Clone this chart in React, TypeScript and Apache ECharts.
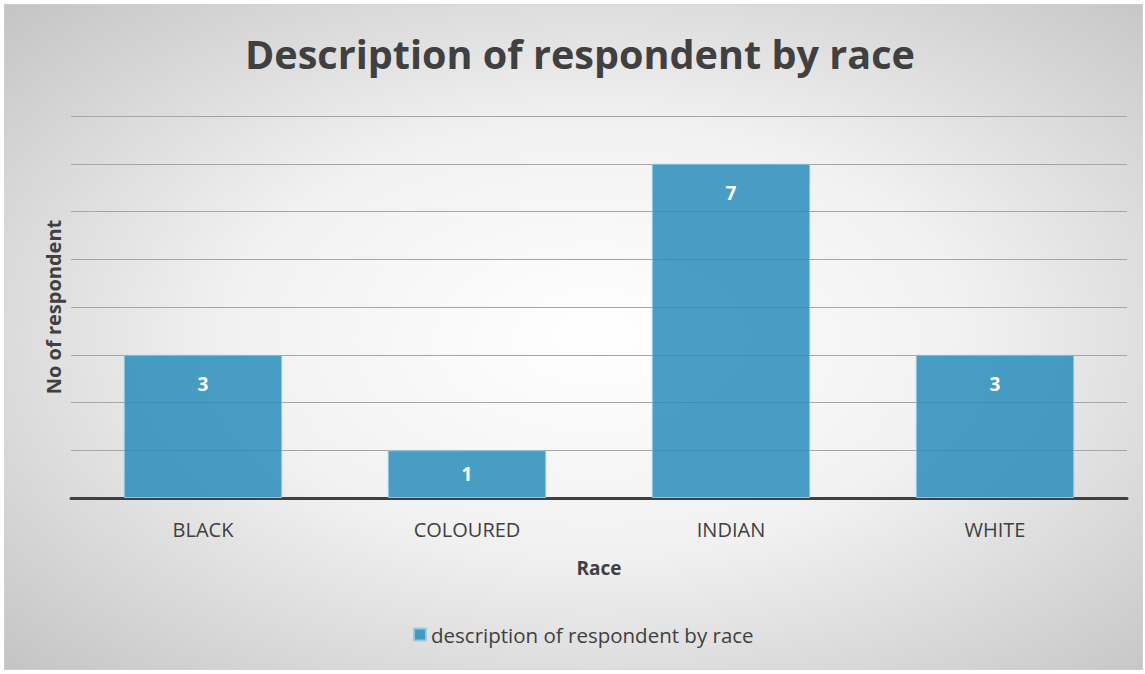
import React, { useEffect, useRef } from "react";
import * as echarts from "echarts";

const categories = ["BLACK", "COLOURED", "INDIAN", "WHITE"];
const respondents = [3, 1, 7, 3];
const seriesName = "description of respondent by race";
const yMax = 8;

const FONT = "'Open Sans', 'Noto Sans', sans-serif";
const W = 1139;
const H = 666;

export default function App() {
  const ref = useRef<HTMLDivElement>(null);

  useEffect(() => {
    document.body.style.margin = "0";
    if (!ref.current) return;
    const chart = echarts.init(ref.current, undefined, { renderer: "svg" });

    // short bars get their value label centred, taller ones at the inside end
    const barData = respondents.map((v) =>
      v <= 1 ? { value: v, label: { position: "inside" } } : v
    );

    chart.setOption({
      animation: false,
      graphic: [
        {
          type: "rect",
          z: -10,
          silent: true,
          shape: { x: 0, y: 0, width: W, height: H },
          style: {
            fill: new echarts.graphic.RadialGradient(0.52, 0.5, 0.72, [
              { offset: 0, color: "#ffffff" },
              { offset: 0.45, color: "#f1f1f1" },
              { offset: 1, color: "#c4c4c4" },
            ]),
            stroke: "#d4d4d4",
            lineWidth: 1,
          },
        },
      ],
      title: {
        text: "Description of respondent by race",
        left: 236,
        top: 25,
        textStyle: {
          fontFamily: FONT,
          fontSize: 39.6,
          fontWeight: "bold",
          color: "#404040",
        },
      },
      legend: {
        bottom: 20,
        left: 404,
        icon: "rect",
        itemWidth: 12,
        itemHeight: 12,
        itemGap: 6,
        textStyle: { fontFamily: FONT, fontSize: 20.5, color: "#404040" },
        data: [seriesName],
      },
      grid: { left: 67, right: 16, top: 112, bottom: 172 },
      xAxis: {
        type: "category",
        data: categories,
        name: "Race",
        nameLocation: "middle",
        nameGap: 60,
        nameTextStyle: {
          fontFamily: FONT,
          fontSize: 19,
          fontWeight: "bold",
          color: "#404040",
        },
        axisLine: { lineStyle: { color: "#404040", width: 3 } },
        axisTick: { show: false },
        axisLabel: {
          fontFamily: FONT,
          fontSize: 20,
          color: "#404040",
          margin: 21,
        },
      },
      yAxis: {
        type: "value",
        min: 0,
        max: yMax,
        interval: 1,
        name: "No of respondent",
        nameLocation: "middle",
        nameGap: 8,
        nameTextStyle: {
          fontFamily: FONT,
          fontSize: 20,
          fontWeight: "bold",
          color: "#404040",
        },
        axisLabel: { show: false },
        axisLine: { show: false },
        axisTick: { show: false },
        splitLine: { lineStyle: { color: "#a6a6a6", width: 1 } },
      },
      series: [
        {
          name: seriesName,
          type: "bar",
          data: barData,
          barWidth: "60%",
          itemStyle: {
            color: "rgba(38,140,186,0.84)",
            borderColor: "rgba(150,205,228,0.9)",
            borderWidth: 1,
          },
          label: {
            show: true,
            position: "insideTop",
            distance: 20,
            fontFamily: FONT,
            fontSize: 19,
            fontWeight: "bold",
            color: "#ffffff",
          },
        },
      ],
    });
    return () => chart.dispose();
  }, []);

  return (
    <div style={{ position: "relative", width: 1145, height: 674, background: "#ffffff" }}>
      <div
        ref={ref}
        style={{ position: "absolute", left: 4, top: 4, width: W, height: H }}
      />
    </div>
  );
}
